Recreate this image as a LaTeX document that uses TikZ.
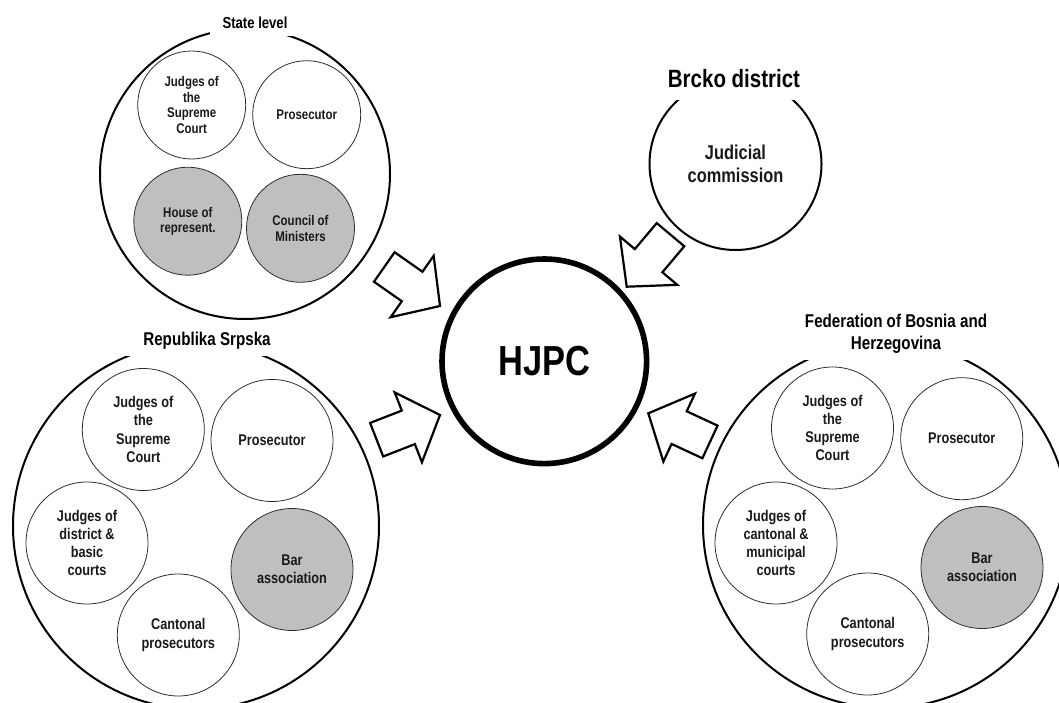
\documentclass[tikz,border=0pt]{standalone}
\usepackage{fontspec}
\setmainfont{Liberation Sans}[FakeStretch=0.82]
\definecolor{shade}{RGB}{191,191,191}
\definecolor{ink}{RGB}{45,45,45}
\newcommand{\blockarrow}[3]{%
  \draw[barrow, shift={(#1,#2)}, rotate=#3]
    (0,0) -- (-34,37.5) -- (-34,18) -- (-68,18) -- (-68,-18) -- (-34,-18) -- (-34,-37.5) -- cycle;}
\begin{document}
\begin{tikzpicture}[x=1pt,y=-1pt,
  group/.style={circle, draw=black, line width=2pt, inner sep=0pt, minimum size=#1},
  lbl/.style={fill=white, inner sep=0pt, align=center, text=black},
  smember/.style={circle, draw=ink, line width=0.8pt, inner sep=0pt, minimum size=108pt,
     align=center, font=\fontsize{14}{15.6}\selectfont\bfseries, text=black!90},
  rmember/.style={circle, draw=ink, line width=0.8pt, inner sep=0pt, minimum size=122pt,
     align=center, font=\fontsize{15.5}{18.3}\selectfont\bfseries, text=black!90},
  shaded/.style={fill=shade},
  barrow/.style={draw=black, fill=white, line width=2.2pt, line join=miter},
  hub/.style={circle, draw=black, line width=5.6pt, inner sep=0pt, minimum size=204.6pt,
     font=\fontsize{42}{48}\selectfont\bfseries}
]
\useasboundingbox (0,0) rectangle (1059,703);
\clip (0,0) rectangle (1059,703);

% State level
\node[group=290pt] (state) at (245,174) {};
\node[lbl, minimum width=90pt, minimum height=26pt, font=\fontsize{16}{19}\selectfont\bfseries] (statelbl) at (255,23) {State level};
\node[smember] (sjsc) at (191.7,105) {Judges of\\the\\Supreme\\Court};
\node[smember] (spros) at (306.7,114.7) {Prosecutor};
\node[smember, shaded] (shouse) at (187.8,221.2) {House of\\represent.};
\node[smember, shaded] (scouncil) at (300.5,228.3) {Council of\\Ministers};

% Brcko district
\node[group=172pt, align=center, font=\fontsize{20}{23.3}\selectfont\bfseries, text=black!90] (brcko) at (735.5,164) {Judicial\\commission};
\node[lbl, minimum width=170pt, minimum height=42pt, font=\fontsize{25}{30}\selectfont\bfseries] (brckolbl) at (734,79) {Brcko district};

% HJPC
\node[hub] (hjpc) at (544.3,361.3) {HJPC};

% Republika Srpska
\node[group=366pt] (rs) at (196,526) {};
\node[lbl, minimum width=164pt, minimum height=31pt, font=\fontsize{18.5}{22}\selectfont\bfseries] (rslbl) at (207,340.5) {Republika Srpska};
\node[rmember] (rjsc) at (143.3,429.5) {Judges of\\the\\Supreme\\Court};
\node[rmember] (rpros) at (272,440.5) {Prosecutor};
\node[rmember] (rdist) at (87,543) {Judges of\\district \&\\basic\\courts};
\node[rmember, shaded] (rbar) at (292,569.5) {Bar\\association};
\node[rmember] (rcant) at (178.3,635) {Cantonal\\prosecutors};

% Federation of Bosnia and Herzegovina
\node[group=366pt] (fbih) at (886,525) {};
\node[lbl, minimum width=198pt, minimum height=53pt, font=\fontsize{18.5}{22}\selectfont\bfseries] (fbihlbl) at (896,333.5) {Federation of Bosnia and\\Herzegovina};
\node[rmember] (fjsc) at (832.5,428) {Judges of\\the\\Supreme\\Court};
\node[rmember] (fpros) at (961.7,438.7) {Prosecutor};
\node[rmember] (fcant1) at (776,543) {Judges of\\cantonal \&\\municipal\\courts};
\node[rmember, shaded] (fbar) at (982,567.5) {Bar\\association};
\node[rmember] (fcant) at (867.7,634) {Cantonal\\prosecutors};

% block arrows towards HJPC
\blockarrow{440}{306}{-35}
\blockarrow{626.7}{286.7}{229.9}
\blockarrow{440}{415}{21.3}
\blockarrow{648.3}{413.3}{155.1}
\end{tikzpicture}
\end{document}
